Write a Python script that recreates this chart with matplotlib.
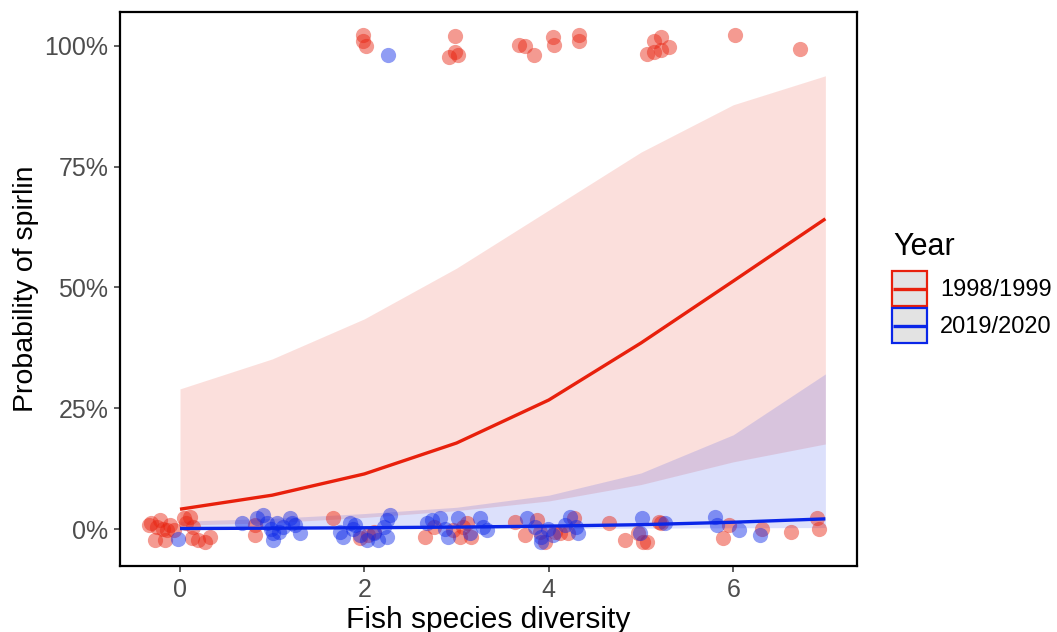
import matplotlib
matplotlib.use("Agg")
import matplotlib.pyplot as plt
from matplotlib.patches import Rectangle
from matplotlib.lines import Line2D
from matplotlib.legend_handler import HandlerBase
from matplotlib.ticker import FuncFormatter
import numpy as np

plt.rcParams['font.family'] = ['Liberation Sans', 'DejaVu Sans']

# ---- data -------------------------------------------------------------
diversity = [0, 1, 2, 3, 4, 5, 6, 7]

fit_9899 = [0.041, 0.070, 0.114, 0.178, 0.267, 0.385, 0.513, 0.642]
lo_9899 = [0.008, 0.013, 0.024, 0.038, 0.058, 0.092, 0.139, 0.176]
hi_9899 = [0.290, 0.352, 0.435, 0.540, 0.660, 0.780, 0.878, 0.938]

fit_1920 = [0.001, 0.0017, 0.0026, 0.004, 0.006, 0.009, 0.014, 0.021]
lo_1920 = [0.0002, 0.0003, 0.0005, 0.0008, 0.0012, 0.0018, 0.0025, 0.003]
hi_1920 = [0.016, 0.022, 0.032, 0.045, 0.070, 0.116, 0.195, 0.321]

# observed (jittered) points: 1998/1999
obs_x_9899 = [1.99, 1.98, 2.02, 2.98, 2.98, 2.92, 3.01, 3.68, 3.74, 3.84, 4.05, 4.06,
              4.33, 4.33, 5.14, 5.22, 5.07, 5.14, 5.22, 5.30, 6.02, 6.73,
              -0.31, -0.25, -0.22, -0.18, -0.14, -0.11, -0.07, -0.27, -0.16, 0.04,
              0.11, 0.07, 0.14, 0.13, 0.20, 0.27, 0.33, -0.34,
              0.81, 0.81,
              1.66, 1.95, 2.10, 2.04,
              2.66, 2.75, 2.96, 3.04, 3.07, 3.16, 3.11,
              3.63, 3.74, 3.87, 3.96, 4.07, 4.12, 4.27, 4.21, 3.90,
              4.65, 4.83, 4.97, 5.02, 5.06, 5.19, 5.22,
              5.95, 5.89, 6.31, 6.63, 6.91, 6.93]
obs_y_9899 = [1.023, 1.009, 0.999, 1.021, 0.988, 0.977, 0.981, 1.002, 0.999, 0.981, 1.019, 1.002,
              1.023, 1.011, 1.011, 1.018, 0.983, 0.988, 0.992, 0.997, 1.023, 0.993,
              0.012, 0.005, 0.019, 0.001, -0.002, 0.008, -0.002, -0.023, -0.023, 0.022,
              0.025, 0.012, 0.005, -0.019, -0.023, -0.026, -0.016, 0.008,
              0.008, -0.012,
              0.022, -0.019, -0.006, -0.012,
              -0.016, 0.005, -0.002, -0.016, 0.005, -0.016, 0.012,
              0.015, -0.012, 0.019, -0.026, -0.006, -0.009, 0.022, -0.009, -0.006,
              0.012, -0.023, -0.009, -0.026, -0.026, 0.015, 0.012,
              0.008, -0.019, 0.001, -0.006, 0.022, 0.001]

# observed (jittered) points: 2019/2020
obs_x_1920 = [2.26,
              -0.02,
              0.67, 0.83, 0.90, 0.94, 0.99, 1.01, 1.05, 1.07, 1.01, 1.12, 1.19, 1.25, 1.30, 1.21,
              1.74, 1.77, 1.84, 1.88, 1.90, 1.95, 2.03, 2.10, 2.15, 2.21, 2.24, 2.28, 2.24,
              2.68, 2.73, 2.82, 2.87, 2.91, 3.02, 3.15, 3.25, 3.29, 3.33,
              3.76, 3.85, 3.92, 3.99, 4.05, 4.18, 4.23, 4.32, 4.30, 3.92,
              5.01, 4.99, 5.26, 5.80, 5.82, 6.06, 6.29]
obs_y_1920 = [0.981,
              -0.021,
              0.012, 0.022, 0.029, 0.012, 0.001, -0.009, 0.012, -0.006, -0.023, 0.005, 0.022, 0.008, -0.009, 0.012,
              -0.006, -0.016, 0.012, 0.001, 0.008, -0.012, -0.023, -0.009, -0.023, 0.005, 0.019, 0.029, -0.016,
              0.012, 0.019, 0.022, 0.001, -0.016, 0.022, -0.009, 0.022, 0.005, -0.002,
              0.022, 0.005, -0.016, 0.001, -0.012, 0.008, 0.025, -0.009, 0.005, -0.026,
              0.022, -0.009, 0.012, 0.025, 0.008, -0.002, -0.012]

years = ["1998/1999", "2019/2020"]
line_colors = ["#E8200C", "#0A26E8"]


class KeyHandler(HandlerBase):
    """ggplot-like legend key: grey box with coloured border and a line."""
    def create_artists(self, legend, orig_handle, xdescent, ydescent,
                       width, height, fontsize, trans):
        col = orig_handle.get_color()
        x0, y0 = -xdescent, -ydescent
        box = Rectangle((x0, y0), width, height, facecolor='#E3E3E3',
                        edgecolor=col, linewidth=1.6, transform=trans)
        yc = y0 + height / 2
        ln = Line2D([x0 + 1, x0 + width - 1], [yc, yc], color=col, lw=2.4,
                    solid_capstyle='butt', transform=trans)
        return [box, ln]


# ---- figure -------------------------------------------------------------
fig = plt.figure(figsize=(10.57, 6.32), dpi=100)
ax = fig.add_axes([0.1135, 0.1044, 0.6973, 0.8766])

series = [
    (fit_9899, lo_9899, hi_9899, obs_x_9899, obs_y_9899),
    (fit_1920, lo_1920, hi_1920, obs_x_1920, obs_y_1920),
]

for (fit, lo, hi, ox, oy), col in zip(series, line_colors):
    ax.fill_between(diversity, lo, hi, color=col, alpha=0.14, linewidth=0, zorder=1)

for (fit, lo, hi, ox, oy), col in zip(series, line_colors):
    ax.scatter(ox, oy, s=120, color=col, alpha=0.45, linewidths=0, zorder=2)

for (fit, lo, hi, ox, oy), col in zip(series, line_colors):
    ax.plot(diversity, fit, color=col, lw=2.4, zorder=3, solid_capstyle='butt')

ax.set_xlim(-0.651, 7.343)
ax.set_ylim(-0.0766, 1.070)
ax.set_xticks([0, 2, 4, 6])
ax.set_yticks([0, 0.25, 0.5, 0.75, 1.0])
ax.yaxis.set_major_formatter(FuncFormatter(lambda v, p: f"{v*100:.0f}%"))

for s in ax.spines.values():
    s.set_linewidth(1.6)
    s.set_color("black")
ax.tick_params(axis='both', direction='out', length=4.5, width=1.1, color='#333333',
               labelsize=18, labelcolor='#4D4D4D', pad=4)

ax.set_xlabel("Fish species diversity", fontsize=21.5, color='black', labelpad=3)
ax.set_ylabel("Probability of spirlin", fontsize=20.5, color='black', labelpad=4)

# legend (title drawn separately for ggplot-like spacing)
fig.text(893 / 1057, 1 - 247 / 632, "Year", fontsize=22, ha='left', va='center')
handles = [Line2D([], [], color=c) for c in line_colors]
leg = ax.legend(handles, years, loc='upper left',
                bbox_to_anchor=(892 / 1057, 1 - 271 / 632), bbox_transform=fig.transFigure,
                frameon=False, fontsize=17,
                handler_map={Line2D: KeyHandler()},
                handlelength=1.48, handleheight=1.92, labelspacing=0.08,
                handletextpad=0.55, borderpad=0, borderaxespad=0)

fig.savefig("out.png", dpi=100, facecolor='white')
